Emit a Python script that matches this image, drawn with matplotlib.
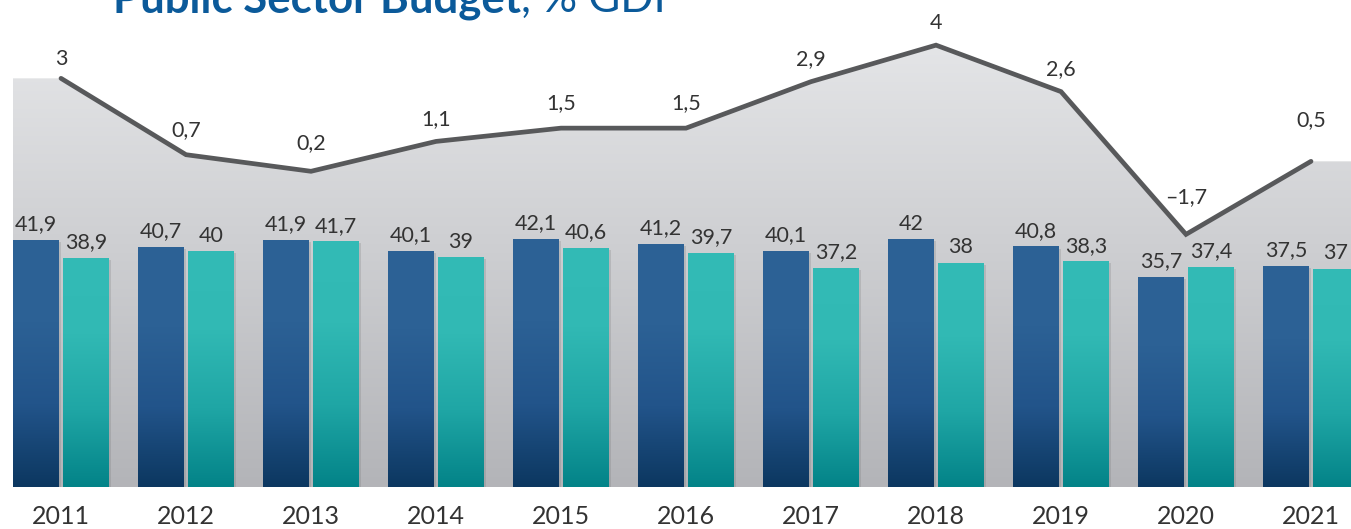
import numpy as np
import matplotlib.pyplot as plt
from matplotlib.colors import LinearSegmentedColormap
from matplotlib import patheffects as pe
from matplotlib.patches import Polygon

plt.rcParams['font.family'] = ['Lato', 'DejaVu Sans']

years = ['2011', '2012', '2013', '2014', '2015', '2016', '2017', '2018', '2019', '2020', '2021']
revenue = [41.9, 40.7, 41.9, 40.1, 42.1, 41.2, 40.1, 42.0, 40.8, 35.7, 37.5]
spending = [38.9, 40.0, 41.7, 39.0, 40.6, 39.7, 37.2, 38.0, 38.3, 37.4, 37.0]
balance = [3.0, 0.7, 0.2, 1.1, 1.5, 1.5, 2.9, 4.0, 2.6, -1.7, 0.5]


def fmt(v):
    s = f"{v:g}".replace('.', ',')
    return s.replace('-', '\u2013')


W, H = 1351, 529
fig = plt.figure(figsize=(W / 100, H / 100), dpi=100)
rect = [0, 42 / H, 1, 487 / H]
ax2 = fig.add_axes(rect)   # line + grey area (behind)
ax = fig.add_axes(rect)    # bars
ax.patch.set_visible(False)

x = np.arange(len(years))
xlim = (-61 / 125, 1290 / 125)
bw = 0.368
off = 0.2

# ---- grey area under the balance line
ylim2 = (-9.31, 5.36)
x_left = -off - bw / 2
xs = [x_left] + list(x) + [xlim[1]]
ys = [balance[0]] + balance + [balance[-1]]
verts = list(zip(xs, ys)) + [(xlim[1], ylim2[0]), (x_left, ylim2[0])]
area = Polygon(verts, closed=True, facecolor='none', edgecolor='none')
ax2.add_patch(area)
grey = LinearSegmentedColormap.from_list('g', ['#b3b4b8', '#e9eaec'])
img = ax2.imshow(np.linspace(0, 1, 256).reshape(-1, 1), cmap=grey, origin='lower',
                 extent=(x_left, xlim[1], ylim2[0], ylim2[1]), aspect='auto', zorder=0)
img.set_clip_path(area)

ax2.plot(x, balance, color='#58595b', lw=3.4, solid_capstyle='round',
         solid_joinstyle='miter', zorder=3)
lift = [14, 18, 20, 16, 18, 18, 16, 16, 16, 27, 30]
for xi, v, d in zip(x, balance, lift):
    ax2.annotate(fmt(v), (xi, v), xytext=(0, d), textcoords='offset points',
                 ha='center', va='center', fontsize=15.5, color='#333333')
ax2.set_xlim(*xlim)
ax2.set_ylim(*ylim2)
ax2.axis('off')

# ---- gradient bars
dark = LinearSegmentedColormap.from_list('d', ['#0c3760', '#22548a', '#2c6195', '#2d6296'])
teal = LinearSegmentedColormap.from_list('t', ['#038388', '#1fa6a5', '#31b9b4', '#33bbb6'])
shadow = [pe.SimplePatchShadow(offset=(1.5, -1.5), shadow_rgbFace='#666666', alpha=0.2), pe.Normal()]
grad = np.linspace(0, 1, 256).reshape(-1, 1)

for vals, dx, cmap, base in [(revenue, -off, dark, '#2c6195'), (spending, off, teal, '#32bab4')]:
    bars = ax.bar(x + dx, vals, bw, color=base, path_effects=shadow, zorder=1)
    for b, v in zip(bars, vals):
        im = ax.imshow(grad, cmap=cmap, origin='lower', aspect='auto', zorder=2,
                       extent=(b.get_x(), b.get_x() + b.get_width(), 0, v))
        im.set_clip_path(b)
        ax.annotate(fmt(v), (b.get_x() + b.get_width() / 2, v), xytext=(0, 4),
                    textcoords='offset points', ha='center', va='bottom',
                    fontsize=15.5, color='#333333', zorder=4)

ax.set_xlim(*xlim)
ax.set_ylim(0, 487 / 5.895)
ax.set_xticks(x, years)
ax.tick_params(axis='x', length=0, pad=13, labelsize=18, labelcolor='#333333')
ax.set_yticks([])
for s in ax.spines.values():
    s.set_visible(False)

# ---- title (cut off at top, as in the source)
t1 = fig.text(113 / W, 1 - 12 / H, 'Public Sector Budget', fontsize=31.5, fontweight='bold',
              color='#0b5a9a', ha='left', va='baseline')
fig.canvas.draw()
bb = t1.get_window_extent()
fig.text(bb.x1 / W, 1 - 12 / H, ', % GDP', fontsize=31.5, color='#0b5a9a',
         ha='left', va='baseline')

fig.savefig('out.png', dpi=100)
